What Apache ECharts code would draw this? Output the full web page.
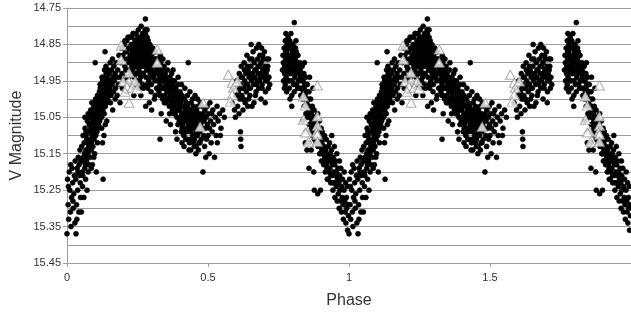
<!DOCTYPE html>
<html>
<head>
<meta charset="utf-8">
<script src="https://cdn.jsdelivr.net/npm/echarts@6/dist/echarts.min.js"></script>
<style>html,body{margin:0;padding:0;background:#fff}#c{width:631px;height:312px}</style>
</head>
<body>
<div id="c"></div>
<script>
// One cycle of the folded light curve (black dots), [phase, V magnitude]
const dotsCycle = [
[0.000,15.37],[0.004,15.29],[0.006,15.33],[0.002,15.22],[0.008,15.20],[0.010,15.25],[0.012,15.31],[0.014,15.35],[0.016,15.27],[0.018,15.19],[0.020,15.23],[0.022,15.30],[0.024,15.26],[0.026,15.21],[0.028,15.34],[0.005,15.24],[0.013,15.18],[0.021,15.28],[0.029,15.17],
[0.032,15.37],[0.031,15.22],[0.034,15.29],[0.036,15.19],[0.038,15.25],[0.040,15.16],[0.042,15.31],[0.044,15.21],[0.046,15.14],[0.048,15.27],[0.035,15.33],[0.043,15.18],[0.047,15.23],[0.039,15.20],[0.049,15.17],
[0.051,15.31],[0.052,15.13],[0.054,15.20],[0.055,15.24],[0.057,15.10],[0.058,15.16],[0.060,15.27],[0.061,15.12],[0.063,15.19],[0.064,15.08],[0.066,15.22],[0.067,15.14],[0.069,15.17],[0.070,15.11],[0.071,15.25],[0.072,15.06],[0.074,15.15],[0.075,15.20],[0.076,15.09],[0.077,15.13],[0.078,15.18],[0.079,15.07],[0.053,15.17],[0.062,15.15],[0.068,15.10],[0.073,15.12],[0.056,15.21],[0.065,15.18],
[0.080,15.12],[0.081,15.05],[0.082,15.16],[0.083,15.09],[0.084,15.03],[0.085,15.11],[0.086,15.14],[0.087,15.07],[0.088,15.01],[0.089,15.10],[0.090,15.18],[0.091,15.06],[0.092,15.13],[0.093,15.04],[0.094,15.08],[0.095,15.02],[0.096,15.11],[0.097,15.05],[0.098,15.15],[0.099,15.03],[0.100,15.07],[0.101,15.00],[0.102,15.10],[0.103,15.04],[0.104,15.06],[0.105,15.01],[0.106,15.09],[0.107,15.03],[0.108,15.12],[0.109,15.05],[0.110,14.99],[0.111,15.02],[0.112,15.07],[0.113,15.00],[0.114,15.04],[0.115,14.98],[0.116,15.06],[0.117,15.01],[0.118,14.97],[0.119,15.03],[0.084,15.08],[0.091,15.10],[0.097,15.08],[0.103,15.02],[0.109,15.08],[0.113,15.05],[0.116,15.03],[0.119,15.00],[0.086,15.19],[0.095,15.16],[0.104,15.20],
[0.120,14.96],[0.121,15.02],[0.122,14.99],[0.123,15.05],[0.124,14.97],[0.125,15.00],[0.126,14.95],[0.127,15.03],[0.128,14.98],[0.129,15.01],[0.130,14.94],[0.131,14.99],[0.132,15.04],[0.133,14.96],[0.134,15.00],[0.135,14.97],[0.136,15.02],[0.137,14.95],[0.138,14.99],[0.139,14.93],[0.140,14.98],[0.141,15.01],[0.142,14.96],[0.143,14.94],[0.144,15.00],[0.145,14.97],[0.146,14.92],[0.147,14.99],[0.148,14.95],[0.149,14.98],[0.123,15.08],[0.128,15.22],[0.131,15.10],[0.136,15.07],[0.141,15.06],[0.126,15.12],[0.133,14.92],[0.138,14.91],
[0.150,14.93],[0.152,14.97],[0.153,14.90],[0.155,14.95],[0.156,14.99],[0.158,14.92],[0.160,14.96],[0.161,14.89],[0.163,14.94],[0.165,14.98],[0.166,14.91],[0.168,14.95],[0.170,14.93],[0.172,14.97],[0.174,14.90],[0.176,14.94],[0.178,14.99],[0.180,14.92],[0.182,14.96],[0.184,14.88],[0.186,14.94],[0.188,15.01],[0.154,15.01],[0.162,15.03],[0.171,15.00],[0.100,14.90],[0.135,14.87],
[0.190,14.90],[0.193,14.86],[0.195,14.93],[0.198,14.88],[0.200,14.95],[0.203,14.85],[0.205,14.91],[0.207,14.87],[0.210,14.94],[0.212,14.84],[0.214,14.89],[0.216,14.92],[0.218,14.86],[0.220,14.90],[0.222,14.83],[0.224,14.88],[0.226,14.93],[0.228,14.85],[0.230,14.91],[0.232,14.87],[0.234,14.82],[0.236,14.89],[0.238,14.94],[0.240,14.86],[0.196,14.97],[0.209,14.98],[0.221,14.96],[0.229,14.97],[0.237,14.99],
[0.241,14.84],[0.242,14.90],[0.243,14.87],[0.244,14.93],[0.245,14.82],[0.246,14.88],[0.247,14.85],[0.248,14.91],[0.249,14.95],[0.250,14.83],[0.251,14.87],[0.252,14.89],[0.253,14.81],[0.254,14.86],[0.255,14.92],[0.256,14.84],[0.257,14.88],[0.258,14.90],[0.259,14.83],[0.260,14.86],[0.261,14.94],[0.262,14.85],[0.263,14.80],[0.264,14.88],[0.265,14.91],[0.266,14.84],[0.267,14.87],[0.268,14.82],[0.269,14.89],[0.270,14.93],[0.271,14.85],[0.272,14.83],[0.273,14.88],[0.274,14.86],[0.275,14.91],[0.276,14.84],[0.277,14.89],[0.278,14.82],[0.279,14.87],[0.280,14.94],[0.281,14.85],[0.282,14.90],[0.283,14.88],[0.284,14.83],[0.285,14.86],[0.286,14.92],[0.287,14.89],[0.288,14.84],[0.289,14.87],[0.290,14.95],[0.291,14.86],[0.292,14.90],[0.293,14.88],[0.294,14.85],[0.295,14.93],[0.296,14.89],[0.297,14.87],[0.298,14.91],[0.299,14.96],[0.300,14.88],[0.302,14.92],[0.304,14.86],[0.306,14.90],[0.308,14.94],[0.310,14.89],[0.312,14.93],[0.314,14.87],[0.316,14.91],[0.318,14.97],[0.320,14.92],[0.278,14.78],[0.284,14.81],[0.262,14.99],[0.279,15.02],[0.292,15.01],[0.300,15.03],[0.310,15.00],[0.255,14.97],[0.268,14.96],[0.286,14.97],
[0.321,14.95],[0.323,14.89],[0.324,14.93],[0.326,14.98],[0.327,14.91],[0.329,14.94],[0.330,14.96],[0.332,14.90],[0.333,14.99],[0.335,14.93],[0.336,14.95],[0.338,14.92],[0.339,15.00],[0.341,14.94],[0.342,14.97],[0.344,14.91],[0.345,14.95],[0.347,14.99],[0.348,14.93],[0.350,14.96],[0.351,15.01],[0.353,14.94],[0.354,14.98],[0.356,14.92],[0.357,14.96],[0.359,15.00],[0.360,14.95],[0.362,14.97],[0.363,15.02],[0.365,14.94],[0.366,14.99],[0.368,14.96],[0.369,15.01],[0.371,14.93],[0.372,14.98],[0.374,15.03],[0.375,14.96],[0.377,15.00],[0.378,14.97],[0.380,15.02],[0.381,14.95],[0.383,14.99],[0.384,15.04],[0.386,14.97],[0.387,15.01],[0.389,14.98],[0.390,15.05],[0.392,15.00],[0.393,14.96],[0.395,15.03],[0.396,14.99],[0.398,15.06],[0.399,15.01],[0.334,15.04],[0.352,15.06],[0.367,15.07],[0.385,15.09],[0.331,14.88],[0.358,14.90],[0.376,14.92],[0.394,14.94],[0.340,14.89],[0.330,15.11],[0.390,15.11],
[0.400,15.03],[0.401,14.98],[0.403,15.06],[0.404,15.01],[0.405,15.09],[0.407,15.04],[0.408,14.99],[0.410,15.07],[0.411,15.02],[0.413,15.05],[0.414,15.10],[0.416,15.00],[0.417,15.04],[0.419,15.08],[0.420,15.03],[0.422,15.06],[0.423,15.01],[0.425,15.11],[0.426,15.05],[0.428,15.02],[0.429,15.08],[0.431,15.04],[0.432,15.07],[0.434,15.12],[0.435,15.03],[0.437,15.06],[0.438,15.09],[0.440,15.01],[0.441,15.05],[0.443,15.08],[0.444,15.04],[0.446,15.10],[0.447,15.06],[0.449,15.02],[0.450,15.07],[0.452,15.11],[0.453,15.04],[0.455,15.08],[0.456,15.05],[0.458,15.13],[0.459,15.03],[0.461,15.07],[0.462,15.10],[0.464,15.06],[0.465,15.02],[0.467,15.09],[0.468,15.12],[0.406,14.96],[0.418,14.97],[0.427,14.99],[0.436,14.98],[0.445,15.00],[0.454,14.99],[0.463,15.00],[0.430,14.90],[0.415,15.13],[0.439,15.14],[0.457,15.15],[0.466,15.14],[0.421,15.11],[0.448,15.12],
[0.470,15.04],[0.471,15.09],[0.473,15.01],[0.474,15.07],[0.476,15.11],[0.477,15.05],[0.479,15.02],[0.480,15.08],[0.482,15.20],[0.483,15.04],[0.485,15.10],[0.486,15.06],[0.488,15.13],[0.489,15.03],[0.491,15.08],[0.492,15.16],[0.494,15.05],[0.495,15.11],[0.497,15.02],[0.498,15.07],[0.500,15.10],[0.502,15.04],[0.504,15.15],[0.505,15.08],[0.507,15.01],[0.509,15.06],[0.511,15.12],[0.513,15.04],[0.515,15.09],[0.517,15.03],[0.520,15.07],[0.523,15.16],[0.526,15.05],[0.529,15.10],[0.532,15.02],[0.536,15.06],[0.541,15.04],[0.546,15.08],[0.552,15.03],[0.558,15.05],[0.533,15.12],[0.544,15.10],
[0.585,15.01],[0.590,14.97],[0.594,15.03],[0.598,14.99],[0.602,14.95],[0.605,15.02],[0.608,14.98],[0.611,14.93],[0.613,15.00],[0.616,14.96],[0.618,14.91],[0.620,14.99],[0.622,14.94],[0.624,15.03],[0.626,14.97],[0.628,14.90],[0.630,14.95],[0.632,15.01],[0.634,14.93],[0.636,14.98],[0.638,14.88],[0.640,14.96],[0.642,14.92],[0.644,15.00],[0.646,14.94],[0.648,14.89],[0.650,14.97],[0.652,14.91],[0.654,14.95],[0.656,15.02],[0.658,14.93],[0.660,14.87],[0.662,14.96],[0.664,14.90],[0.666,14.94],[0.668,14.99],[0.670,14.92],[0.672,14.86],[0.674,14.95],[0.676,14.89],[0.678,14.93],[0.680,14.97],[0.682,14.91],[0.684,14.88],[0.686,14.94],[0.688,14.90],[0.690,14.86],[0.692,14.96],[0.694,14.92],[0.696,14.89],[0.698,14.94],[0.700,14.87],[0.702,14.91],[0.704,14.98],[0.706,14.93],[0.708,14.89],[0.710,14.95],[0.712,14.91],[0.714,14.97],[0.716,14.94],[0.719,14.96],[0.610,15.04],[0.615,15.09],[0.616,15.11],[0.617,15.13],[0.622,15.00],[0.641,15.02],[0.663,15.01],[0.688,15.00],[0.703,15.01],[0.653,14.85],[0.680,14.85],[0.597,15.05],
[0.764,14.92],[0.766,14.88],[0.768,14.95],[0.770,14.86],[0.772,14.91],[0.774,14.84],[0.775,14.89],[0.777,14.94],[0.778,14.87],[0.780,14.85],[0.781,14.91],[0.783,14.88],[0.784,14.83],[0.786,14.90],[0.787,14.86],[0.789,14.93],[0.790,14.84],[0.792,14.88],[0.793,14.91],[0.795,14.86],[0.796,14.89],[0.798,14.95],[0.799,14.87],[0.801,14.85],[0.802,14.90],[0.804,14.92],[0.805,14.88],[0.807,14.86],[0.808,14.94],[0.810,14.89],[0.811,14.91],[0.813,14.87],[0.814,14.96],[0.816,14.90],[0.817,14.92],[0.819,14.88],[0.820,14.95],[0.822,14.91],[0.823,14.93],[0.825,14.97],[0.826,14.90],[0.828,14.94],[0.829,14.99],[0.771,14.97],[0.779,14.98],[0.788,14.97],[0.797,14.99],[0.806,14.98],[0.806,14.79],[0.776,14.82],[0.794,14.82],[0.785,14.95],[0.812,14.84],[0.791,15.00],[0.797,15.02],
[0.830,14.93],[0.832,14.97],[0.834,14.91],[0.835,15.00],[0.837,14.95],[0.838,14.98],[0.840,14.93],[0.841,15.02],[0.843,14.96],[0.844,14.99],[0.846,14.94],[0.847,15.04],[0.849,14.98],[0.850,15.01],[0.852,14.96],[0.853,15.05],[0.855,15.00],[0.856,15.03],[0.858,14.98],[0.859,15.07],[0.861,15.02],[0.862,15.05],[0.864,15.00],[0.865,15.09],[0.867,15.04],[0.868,15.06],[0.870,15.02],[0.871,15.10],[0.873,15.05],[0.874,15.08],[0.876,15.03],[0.877,15.11],[0.879,15.06],[0.880,15.09],[0.836,15.06],[0.848,15.09],[0.857,15.12],[0.866,15.14],[0.842,14.90],[0.860,14.94],[0.872,14.97],[0.845,15.12],[0.851,15.14],[0.858,15.19],[0.875,15.20],[0.889,15.26],[0.899,15.25],[0.877,15.25],
[0.881,15.05],[0.883,15.09],[0.884,15.12],[0.886,15.07],[0.887,15.10],[0.889,15.04],[0.890,15.13],[0.892,15.08],[0.893,15.11],[0.895,15.06],[0.896,15.15],[0.898,15.10],[0.899,15.13],[0.901,15.08],[0.902,15.17],[0.904,15.12],[0.905,15.09],[0.907,15.15],[0.908,15.11],[0.910,15.18],[0.911,15.13],[0.913,15.10],[0.914,15.16],[0.916,15.20],[0.917,15.14],[0.919,15.11],[0.920,15.18],[0.922,15.15],[0.923,15.22],[0.925,15.17],[0.926,15.13],[0.928,15.20],[0.929,15.16],
[0.931,15.12],[0.932,15.19],[0.934,15.15],[0.935,15.23],[0.937,15.17],[0.938,15.14],[0.940,15.21],[0.941,15.18],[0.943,15.25],[0.944,15.16],[0.946,15.20],[0.947,15.23],[0.949,15.18],[0.950,15.27],[0.952,15.21],[0.953,15.17],[0.955,15.24],[0.956,15.20],[0.958,15.28],[0.959,15.22],[0.961,15.19],[0.962,15.26],[0.964,15.23],[0.965,15.30],[0.967,15.21],[0.968,15.25],[0.970,15.28],[0.971,15.19],[0.973,15.31],[0.974,15.24],[0.976,15.27],[0.977,15.22],[0.979,15.29],[0.980,15.33],[0.982,15.25],[0.983,15.20],[0.985,15.28],[0.986,15.31],[0.988,15.23],[0.989,15.34],[0.991,15.27],[0.992,15.30],[0.994,15.24],[0.995,15.36],[0.997,15.29],[0.998,15.32],[0.939,15.10],[0.948,15.13],[0.957,15.15],[0.966,15.17]
];

// Extra black dots read from the densest parts of the cloud, [phase, V magnitude]
const dotsDense = [
[0.0635,15.05],[0.0672,15.09],[0.0718,15.16],[0.0753,15.04],[0.0791,15.14],[0.0824,15.07],[0.0867,15.12],[0.0893,15.04],[0.0931,15.09],[0.0958,15.06],[0.0987,15.01],[0.1024,15.08],[0.1058,15.03],[0.1083,14.99],[0.1117,15.05],[0.1146,15.02],[0.1172,14.96],[0.1215,15.00],[0.1243,14.94],[0.1281,14.97],[0.1318,15.02],[0.1347,14.95],[0.1392,14.97],[0.1436,14.93],[0.1478,14.96],
[0.2015,14.89],[0.2052,14.84],[0.2087,14.92],[0.2126,14.87],[0.2163,14.83],[0.2191,14.94],[0.2238,14.86],[0.2264,14.90],[0.2297,14.83],[0.2335,14.92],[0.2372,14.85],[0.2408,14.88],[0.2443,14.91],[0.2476,14.86],[0.2512,14.93],[0.2547,14.88],[0.2583,14.85],[0.2618,14.90],[0.2651,14.87],[0.2687,14.93],[0.2724,14.86],[0.2758,14.90],[0.2793,14.84],[0.2826,14.92],[0.2861,14.88],[0.2895,14.91],[0.2932,14.86],[0.2968,14.94],[0.3005,14.90],[0.3043,14.93],[0.3079,14.87],[0.3115,14.95],[0.3152,14.89],[0.3188,14.93],[0.2456,14.96],[0.2571,14.95],[0.2706,14.97],[0.2844,14.96],[0.2979,14.98],[0.3127,14.99],[0.2217,14.89],[0.2364,14.82],[0.2503,14.84],[0.2637,14.83],[0.2772,14.81],
[0.3227,14.97],[0.3264,14.92],[0.3303,14.99],[0.3341,14.95],[0.3378,14.97],[0.3416,14.93],[0.3452,15.01],[0.3489,14.97],[0.3527,14.95],[0.3563,15.00],[0.3601,14.97],[0.3638,15.04],[0.3674,14.98],[0.3712,15.01],[0.3749,14.95],[0.3786,15.04],[0.3823,15.00],[0.3861,15.03],[0.3897,14.99],[0.3934,15.07],[0.3972,15.02],[0.4009,15.05],[0.4046,15.00],[0.4083,15.08],[0.4121,15.04],[0.4158,15.06],[0.4195,15.02],[0.4232,15.09],[0.4269,15.04],[0.4307,15.07],[0.4344,15.05],[0.4381,15.11],[0.4418,15.03],[0.4456,15.07],[0.4493,15.10],[0.4531,15.06],[0.4568,15.09],[0.4605,15.04],[0.4642,15.08],[0.4679,15.05],[0.4716,15.12],[0.4753,15.06],[0.4078,15.12],[0.4327,15.14],[0.4513,15.13],
[0.6035,14.99],[0.6124,14.97],[0.6183,14.94],[0.6237,14.97],[0.6291,14.92],[0.6345,14.96],[0.6398,14.91],[0.6453,14.97],[0.6506,14.93],[0.6561,14.89],[0.6614,14.94],[0.6667,14.92],[0.6723,14.96],[0.6776,14.91],[0.6829,14.95],[0.6884,14.93],[0.6937,14.88],[0.6991,14.92],[0.7045,14.95],[0.7098,14.92],[0.7152,14.89],[0.6261,15.00],[0.6485,14.99],[0.6704,14.98],[0.6918,14.97],
[0.7672,14.90],[0.7713,14.93],[0.7758,14.87],[0.7796,14.92],[0.7831,14.86],[0.7868,14.92],[0.7903,14.89],[0.7942,14.93],[0.7978,14.85],[0.8013,14.92],[0.8049,14.87],[0.8087,14.90],[0.8122,14.93],[0.8158,14.88],[0.8193,14.92],[0.8231,14.95],[0.8267,14.92],[0.7741,14.96],[0.7886,14.95],[0.8029,14.96],[0.8178,14.97],[0.7823,14.84],[0.7967,14.88],[0.8104,14.86],[0.7815,14.89],
[0.8316,14.95],[0.8362,14.93],[0.8408,14.97],[0.8453,15.00],[0.8497,14.96],[0.8543,15.02],[0.8588,15.04],[0.8634,15.03],[0.8679,15.08],[0.8723,15.07],[0.8769,15.05],[0.8814,15.11],[0.8858,15.09],[0.8903,15.11],[0.8949,15.12],[0.8993,15.15],[0.9038,15.14],[0.9084,15.13],[0.9129,15.17],[0.9173,15.17],[0.9219,15.19],[0.9264,15.22],[0.9308,15.17],[0.9354,15.21],[0.9412,15.23]
];

// One cycle of the second data set (open triangles), [phase, V magnitude]
const trianglesCycle = [
[0.192,14.853],[0.192,14.892],[0.220,14.928],[0.199,14.952],[0.220,14.952],[0.242,14.952],[0.213,14.966],[0.231,14.969],[0.249,14.972],[0.206,14.980],[0.220,15.010],
[0.320,14.864],[0.320,14.900],[0.483,15.010],[0.472,15.076],
[0.572,14.933],[0.586,14.955],[0.590,14.969],[0.586,14.988],[0.579,15.007],[0.604,14.952],
[0.888,14.963],[0.838,14.993],[0.845,15.018],[0.888,15.048],[0.838,15.057],[0.888,15.073],[0.853,15.090],[0.885,15.092],[0.845,15.092],[0.888,15.098],[0.856,15.117],[0.888,15.117]
];

// Tick labels
const xTicks = [0, 0.5, 1, 1.5];
const yTicks = [14.75, 14.85, 14.95, 15.05, 15.15, 15.25, 15.35, 15.45];

// The phase plot shows two identical cycles (phase 0-1 repeated at 1-2)
const twoCycles = arr => arr.concat(arr.map(p => [p[0] + 1, p[1]]));

const chart = echarts.init(document.getElementById('c'), null, {renderer: 'canvas'});
const font = 'Liberation Sans, Arial, sans-serif';
chart.setOption({
  animation: false,
  backgroundColor: '#fff',
  grid: {left: 67, right: 0, top: 8, bottom: 49, containLabel: false, outerBoundsMode: 'none'},
  xAxis: {
    type: 'value', min: 0, max: 2, interval: 0.5,
    name: 'Phase', nameLocation: 'middle', nameGap: 30, nameMoveOverlap: false,
    nameTextStyle: {fontFamily: font, fontSize: 16, color: '#333'},
    axisLine: {onZero: false, lineStyle: {color: '#a0a0a0', width: 1}},
    axisTick: {show: true, length: 4, inside: false, lineStyle: {color: '#a0a0a0'}},
    axisLabel: {fontFamily: font, fontSize: 11, color: '#333', margin: 9,
      formatter: v => xTicks.some(t => Math.abs(t - v) < 1e-9) ? String(v) : ''},
    splitLine: {show: false}
  },
  yAxis: {
    type: 'value', inverse: true, min: 14.75, max: 15.45, interval: 0.1,
    name: 'V Magnitude', nameLocation: 'middle', nameGap: 42, nameMoveOverlap: false,
    nameTextStyle: {fontFamily: font, fontSize: 16, color: '#333'},
    axisLine: {show: true, lineStyle: {color: '#a0a0a0', width: 1}},
    axisTick: {show: true, length: 4, lineStyle: {color: '#a0a0a0'}},
    axisLabel: {fontFamily: font, fontSize: 11, color: '#333', margin: 6,
      formatter: v => {const t = yTicks.find(t => Math.abs(t - v) < 1e-6); return t === undefined ? '' : t.toFixed(2);}},
    splitLine: {show: true, lineStyle: {color: '#9a9a9a', width: 1}},
    minorTick: {show: false, splitNumber: 2},
    minorSplitLine: {show: true, lineStyle: {color: '#9a9a9a', width: 1}}
  },
  series: [
    {
      type: 'scatter', data: twoCycles(dotsCycle.concat(dotsDense)), symbol: 'circle', symbolSize: 5,
      itemStyle: {color: '#000', borderColor: '#000', borderWidth: 0.6, opacity: 1}, silent: true, clip: true
    },
    {
      type: 'scatter', data: twoCycles(trianglesCycle), symbol: 'triangle', symbolSize: [10, 9],
      itemStyle: {color: '#fff', borderColor: '#9a9a9a', borderWidth: 1}, silent: true, clip: true
    }
  ]
});
</script>
</body>
</html>
